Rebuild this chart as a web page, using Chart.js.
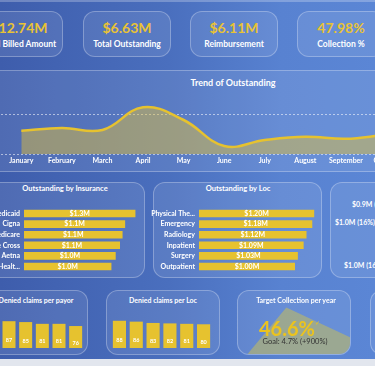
<!DOCTYPE html>
<html>
<head>
<meta charset="utf-8">
<script src="https://cdn.jsdelivr.net/npm/chart.js@4.4.0/dist/chart.umd.min.js"></script>
<style>
html, body { margin: 0; padding: 0; }
body {
    width: 375px; height: 366px; overflow: hidden; position: relative;
    font-family: Lato, "Open Sans", sans-serif;
    background: linear-gradient(90deg, #3e5dac 0%, #4a6fbe 45%, #5882d1 75%, #5b86d5 100%);
}
.panel {
    position: absolute; box-sizing: border-box; overflow: hidden;
    border: 1px solid rgba(255,255,255,0.28); border-radius: 12px;
    background: rgba(255,255,255,0.09);
}
.t { position: absolute; transform: translate(-50%, -50%); white-space: nowrap; color: #fff; font-weight: 700; }
.l { position: absolute; transform: translateY(-50%); white-space: nowrap; color: #fff; font-weight: 700; }
canvas { position: absolute; }
</style>
</head>
<body>
<div style="position:absolute;left:0;top:0;width:375px;height:2px;background:rgba(255,255,255,0.25)"></div>

<div id="kpis"></div>

<div class="panel" style="left:-10px;top:70px;width:400px;height:102px;border-radius:4px"></div>
<div class="t" style="left:233px;top:82px;font-size:9px">Trend of Outstanding</div>
<canvas id="trendChart" width="487" height="75" style="left:1px;top:95px"></canvas>

<div class="panel" style="left:-20px;top:182px;width:165px;height:96px"></div>
<div class="t" style="left:65px;top:188px;font-size:7.5px">Outstanding by Insurance</div>
<canvas id="insuranceChart" width="184" height="80" style="left:-40px;top:200px"></canvas>

<div class="panel" style="left:153px;top:182px;width:169px;height:96px"></div>
<div class="t" style="left:238px;top:188px;font-size:7.5px">Outstanding by Loc</div>
<canvas id="locChart" width="169" height="80" style="left:150px;top:200px"></canvas>

<div class="panel" style="left:330px;top:182px;width:70px;height:96px"></div>
<div id="pieLabels"></div>

<div class="panel" style="left:-30px;top:290px;width:118px;height:65px"></div>
<div class="t" style="left:36px;top:300px;font-size:7px">Denied claims per payor</div>
<canvas id="payorChart" width="100" height="29" style="left:-16px;top:319px"></canvas>

<div class="panel" style="left:106px;top:290px;width:114px;height:65px"></div>
<div class="t" style="left:163px;top:300px;font-size:7px">Denied claims per Loc</div>
<canvas id="deniedLocChart" width="101" height="29" style="left:111px;top:319px"></canvas>

<div class="panel" id="gaugePanel" style="left:237px;top:290px;width:114px;height:65px">
    <canvas id="gaugeChart" width="220" height="220" style="left:-67px;top:-90px"></canvas>
</div>
<div class="t" style="left:296px;top:300px;font-size:7px">Target Collection per year</div>
<div class="t" id="gaugeValue" style="left:287px;top:328px;font-size:20px;font-weight:700;color:#ebc31f"></div>
<div class="t" style="left:317px;top:322px;font-size:6px;font-weight:400;color:#ebc31f">✓</div>
<div class="t" id="gaugeGoal" style="left:295px;top:341px;font-size:7.5px;font-weight:400;color:#333"></div>

<div class="panel" style="left:370px;top:290px;width:100px;height:65px"></div>

<div style="position:absolute;left:0;top:359px;width:375px;height:7px;background:#e2e6ee"></div>

<script>
// KPI cards
const kpiLabels = ['Total Billed Amount', 'Total Outstanding', 'Reimbursement', 'Collection %'];
const kpiValues = ['$12.74M', '$6.63M', '$6.11M', '47.98%'];

// Trend of Outstanding ($M)
const months = ['January', 'February', 'March', 'April', 'May', 'June', 'July', 'August', 'September', 'October', 'November', 'December'];
const outstandingByMonth = [0.58, 0.65, 0.60, 1.17, 0.85, 0.20, 0.35, 0.43, 0.38, 0.48, 0.55, 0.60];
const trendGrid = [0, 1];

// Outstanding by Insurance ($M)
const insurers = ['Medicaid', 'Cigna', 'Medicare', 'Blue Cross', 'Aetna', 'United Healthcare'];
const insuranceValues = [1.30, 1.18, 1.15, 1.12, 1.07, 1.02];
const insuranceLabels = ['$1.3M', '$1.1M', '$1.1M', '$1.1M', '$1.0M', '$1.0M'];

// Outstanding by Loc ($M)
const locations = ['Physical Therapy', 'Emergency', 'Radiology', 'Inpatient', 'Surgery', 'Outpatient'];
const locValues = [1.20, 1.18, 1.12, 1.09, 1.03, 1.00];
const locLabels = ['$1.20M', '$1.18M', '$1.12M', '$1.09M', '$1.03M', '$1.00M'];

// pie labels (pie itself is off the right edge)
const pieValueLabels = ['$0.9M (14%)', '$1.0M (16%)', '$1.0M (16%)'];

// Denied claims
const payors = ['Medicaid', 'Cigna', 'Medicare', 'Blue Cross', 'Aetna', 'United Healthcare'];
const deniedPayor = [89, 87, 85, 81, 81, 76];
const deniedLoc = [88, 86, 83, 82, 81, 80];

// Target collection gauge
const gaugeValue = 46.6;
const gaugeMax = 100;
const gaugeGoal = 4.7;
const gaugeChange = '+900%';

const YELLOW = '#e6c22f';
const AREA = 'rgba(232,196,52,0.45)';

Chart.defaults.font.family = 'Lato';
Chart.defaults.animation = false;

function shorten(label) {
    return label.length > 13 ? label.slice(0, 12) + '...' : label;
}

// draws the value text in the middle of each bar
const barLabels = {
    id: 'barLabels',
    afterDatasetsDraw(chart, args, opts) {
        const ctx = chart.ctx;
        const horiz = chart.options.indexAxis === 'y';
        ctx.save();
        ctx.fillStyle = '#fff';
        ctx.font = 'bold ' + opts.size + 'px Lato';
        ctx.textAlign = 'center';
        ctx.textBaseline = 'middle';
        chart.getDatasetMeta(0).data.forEach((bar, i) => {
            const x = horiz ? (bar.x + bar.base) / 2 : bar.x;
            const y = horiz ? bar.y : (bar.y + bar.base) / 2;
            ctx.fillText(opts.labels[i], x, y);
        });
        ctx.restore();
    }
};

function buildKpis() {
    const centers = [19, 127, 234, 341];
    let html = '';
    kpiLabels.forEach((label, i) => {
        html += '<div class="panel" style="left:' + (centers[i] - 44) + 'px;top:11px;width:88px;height:46px"></div>';
        html += '<div class="t" style="left:' + centers[i] + 'px;top:27px;font-size:14px;color:#e9c334">' + kpiValues[i] + '</div>';
        html += '<div class="t" style="left:' + centers[i] + 'px;top:44px;font-size:8.5px">' + label + '</div>';
    });
    document.getElementById('kpis').innerHTML = html;
}

function buildPieLabels() {
    const spots = [[352, 204], [335, 222], [344, 265]];
    let html = '';
    pieValueLabels.forEach((text, i) => {
        html += '<div class="l" style="left:' + spots[i][0] + 'px;top:' + spots[i][1] + 'px;font-size:7px">' + text + '</div>';
    });
    document.getElementById('pieLabels').innerHTML = html;
}

function createTrendChart() {
    new Chart(document.getElementById('trendChart'), {
        type: 'line',
        data: {
            labels: months,
            datasets: [{
                data: outstandingByMonth,
                borderColor: YELLOW,
                borderWidth: 2.5,
                backgroundColor: AREA,
                fill: 'origin',
                tension: 0.4,
                pointRadius: 0,
            }]
        },
        options: {
            responsive: false,
            layout: { padding: { top: 3 } },
            plugins: { legend: { display: false }, tooltip: { enabled: false } },
            scales: {
                x: {
                    offset: true,
                    grid: { display: false, drawTicks: false },
                    border: { display: false },
                    ticks: { color: '#fff', font: { size: 7, weight: 'bold' }, padding: 3, autoSkip: false, maxRotation: 0 },
                    afterFit: s => { s.height = 16; },
                },
                y: {
                    min: 0, max: 1.4,
                    grid: { color: 'rgba(255,255,255,0.55)', drawTicks: false },
                    border: { display: false, dash: [2, 2] },
                    ticks: { display: false },
                    afterBuildTicks: s => { s.ticks = trendGrid.map(v => ({ value: v })); },
                    afterFit: s => { s.width = 0; },
                },
            },
        }
    });
}

function createHBarChart(id, labels, values, texts, max, labelWidth) {
    new Chart(document.getElementById(id), {
        type: 'bar',
        data: {
            labels: labels,
            datasets: [{ data: values, backgroundColor: YELLOW, barPercentage: 0.72, categoryPercentage: 1 }]
        },
        options: {
            indexAxis: 'y',
            responsive: false,
            layout: { padding: { top: 2, bottom: 3 } },
            plugins: { legend: { display: false }, tooltip: { enabled: false }, barLabels: { size: 7, labels: texts } },
            scales: {
                x: { display: false, min: 0, max: max },
                y: {
                    grid: { display: false, drawTicks: false },
                    border: { display: false },
                    ticks: { color: '#fff', font: { size: 7, weight: 'bold' }, padding: 4, callback: function (v) { return shorten(this.getLabelForValue(v)); } },
                    afterFit: s => { s.width = labelWidth; },
                },
            },
        },
        plugins: [barLabels]
    });
}

function createColumnChart(id, labels, values) {
    new Chart(document.getElementById(id), {
        type: 'bar',
        data: {
            labels: labels,
            datasets: [{ data: values, backgroundColor: YELLOW, barPercentage: 0.78, categoryPercentage: 1 }]
        },
        options: {
            responsive: false,
            plugins: { legend: { display: false }, tooltip: { enabled: false }, barLabels: { size: 5.5, labels: values.map(String) } },
            scales: {
                x: { display: false },
                y: { display: false, min: 26, max: 92 },
            },
        },
        plugins: [barLabels]
    });
}

function createGauge() {
    new Chart(document.getElementById('gaugeChart'), {
        type: 'pie',
        data: {
            datasets: [{
                data: [gaugeValue, gaugeMax - gaugeValue],
                backgroundColor: ['rgba(190,185,100,0.6)', 'rgba(0,0,0,0)'],
                borderWidth: 0,
            }]
        },
        options: {
            responsive: false,
            rotation: 115,
            circumference: 225,
            plugins: { legend: { display: false }, tooltip: { enabled: false } },
        }
    });
    document.getElementById('gaugeValue').textContent = gaugeValue.toFixed(1) + '%';
    document.getElementById('gaugeGoal').textContent = 'Goal: ' + gaugeGoal + '% (' + gaugeChange + ')';
}

window.onload = function () {
    buildKpis();
    buildPieLabels();
    createTrendChart();
    createHBarChart('insuranceChart', insurers, insuranceValues, insuranceLabels, 1.4, 64);
    createHBarChart('locChart', locations, locValues, locLabels, 1.25, 49);
    createColumnChart('payorChart', payors, deniedPayor);
    createColumnChart('deniedLocChart', locations, deniedLoc);
    createGauge();
};
</script>
</body>
</html>
